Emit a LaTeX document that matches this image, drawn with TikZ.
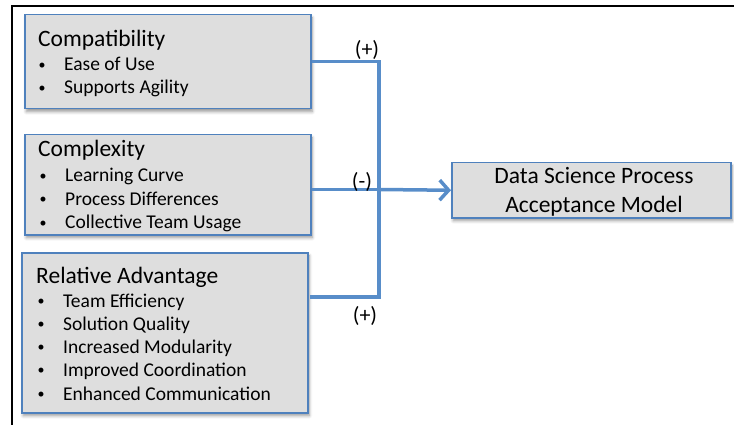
\documentclass[tikz,border=0pt]{standalone}
\usepackage{fontspec}
\setmainfont{Carlito}
\usetikzlibrary{arrows.meta,shadows.blur,calc}
\definecolor{boxfill}{RGB}{222,222,222}
\definecolor{boxline}{RGB}{79,129,189}
\definecolor{link}{RGB}{88,141,201}

\begin{document}
\begin{tikzpicture}[x=1pt,y=-1pt,
  box/.style={rectangle, draw=boxline, line width=1.5pt, fill=boxfill,
    inner sep=0pt, anchor=north west,
    blur shadow={shadow xshift=1.5pt, shadow yshift=-3pt,
      shadow blur radius=3pt, shadow opacity=40}},
  heading/.style={anchor=base west, inner sep=0pt,
    font=\fontsize{23.5}{28}\selectfont},
  item/.style={anchor=base west, inner sep=0pt,
    font=\fontsize{19.5}{23}\selectfont},
  sign/.style={inner sep=0pt, font=\fontsize{22}{26}\selectfont},
  link/.style={draw=link, line width=3.5pt, line join=miter}]

\useasboundingbox (0,0) rectangle (734,425);

% outer frame (top and left edges)
\draw[line width=2pt] (12,425) -- (12,6.5) -- (734,6.5);

% factor boxes
\node[box, minimum width=286pt, minimum height=94pt]  (b1) at (24,14)  {};
\node[box, minimum width=286pt, minimum height=100pt] (b2) at (24,134) {};
\node[box, minimum width=286pt, minimum height=160pt] (b3) at (21,252) {};

% outcome box
\node[box, minimum width=279pt, minimum height=55pt] (dm) at (451,162) {};
\node[heading, anchor=base] (dm1) at (594,184) {Data Science Process};
\node[heading, anchor=base] (dm2) at (594,212) {Acceptance Model};

% box texts
\newcommand{\bul}[1]{\makebox[26pt][l]{\hspace{0.5pt}\raisebox{1.5pt}{\fontsize{14}{14}\selectfont\textbullet}}#1}
\node[heading] (h1)  at (38,47)  {Compatibility};
\node[item]    (i11) at (38,71)  {\bul{Ease of Use}};
\node[item]    (i12) at (38,94)  {\bul{Supports Agility}};

\node[heading] (h2)  at (38,157) {Complexity};
\node[item]    (i21) at (39,182) {\bul{Learning Curve}};
\node[item]    (i22) at (39,205) {\bul{Process Differences}};
\node[item]    (i23) at (39,229) {\bul{Collective Team Usage}};

\node[heading] (h3)  at (36,283) {Relative Advantage};
\node[item]    (i31) at (37,307) {\bul{Team Efficiency}};
\node[item]    (i32) at (37,330) {\bul{Solution Quality}};
\node[item]    (i33) at (37,353) {\bul{Increased Modularity}};
\node[item]    (i34) at (37,376) {\bul{Improved Coordination}};
\node[item]    (i35) at (37,400) {\bul{Enhanced Communication}};

% connectors
\coordinate (j) at (379,189.5);
\draw[link] (b1.east) -| (j);
\draw[link] (b2.east |- j) -- (j);
\draw[link] ($(b3.north east)+(1,45)$) -| (j);
\draw[link, -{Straight Barb[length=9pt,width=20pt]}] (j) -- (dm.west);

% effect signs
\node[sign] (s1) at (367,50)  {(+)};
\node[sign] (s2) at (362,182) {(-)};
\node[sign] (s3) at (365,316) {(+)};

\end{tikzpicture}
\end{document}
